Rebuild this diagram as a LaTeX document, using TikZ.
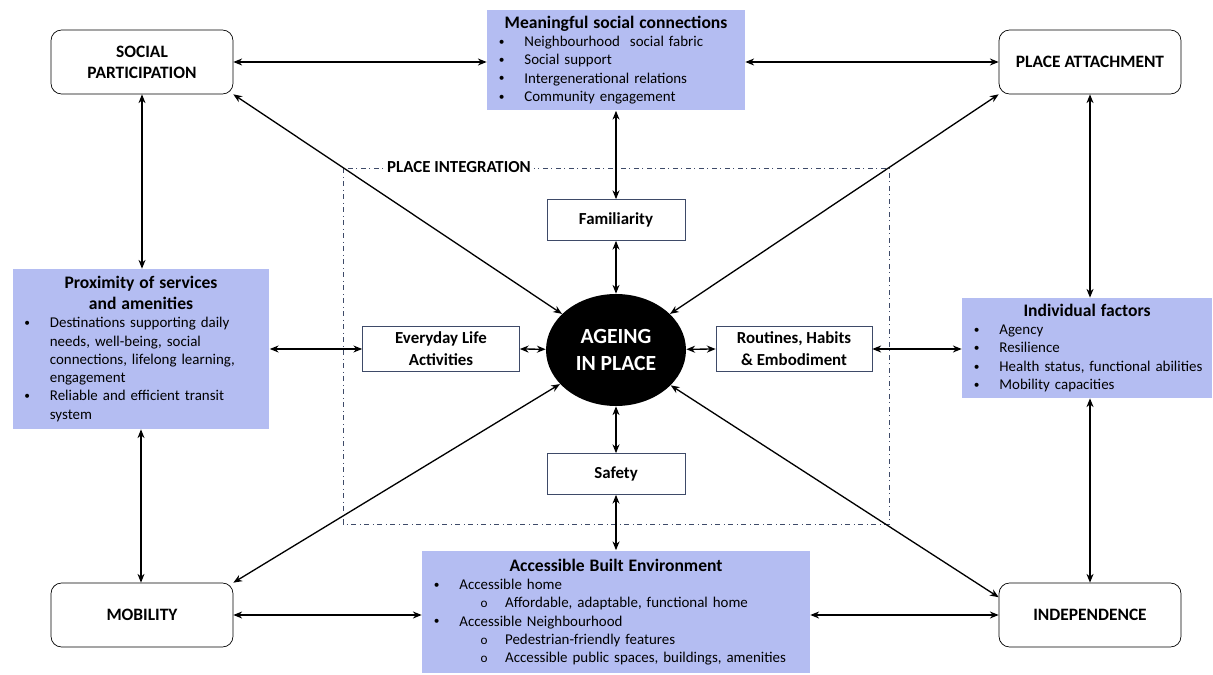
\documentclass[tikz,border=0pt]{standalone}
\usepackage{fontspec}
\setmainfont{Carlito}
\usetikzlibrary{shapes.geometric,arrows.meta,positioning}
\definecolor{boxblue}{RGB}{180,189,242}
\definecolor{edgegray}{RGB}{62,74,104}
\newlength{\bind}\setlength{\bind}{19pt}
\newcommand{\boxtitle}[1]{{\centering\bfseries\fontsize{10}{11.8}\selectfont #1\par}}
\newcommand{\bdot}{\raisebox{0.7pt}{\fontsize{6.5}{6.5}\selectfont\textbullet}}
\newcommand{\bitem}[1]{{\raggedright\hangindent=\bind\hangafter=1\noindent\makebox[\bind][l]{\hspace{4.5pt}\bdot}#1\par}}
\newcommand{\sitem}[1]{{\raggedright\noindent\hspace*{31pt}\makebox[14pt][l]{\fontsize{7.5}{7.5}\selectfont o}#1\par}}

\begin{document}
\begin{tikzpicture}[x=0.02cm, y=-0.02cm,
    corebox/.style={draw, rounded corners=6pt, minimum width=3.64cm, minimum height=1.28cm, align=center, font=\bfseries\fontsize{9.9}{12}\selectfont},
    infobox/.style={fill=boxblue, inner sep=0.08cm, font=\fontsize{8.5}{10.4}\selectfont},
    midbox/.style={draw=edgegray, fill=white, minimum height=0.82cm, align=center, font=\bfseries\fontsize{9.6}{12.4}\selectfont},
    link/.style={<->, >={Stealth[length=5pt,width=4pt]}, line width=0.75pt}]
    \useasboundingbox (0,0) rectangle (1213,675);

    \draw [edgegray, dash dot, line width=0.4pt] (343,168) rectangle (889,524);
    \node [fill=white, inner sep=2pt, font=\bfseries\fontsize{9.6}{11}\selectfont] (integ) at (459,167) {PLACE INTEGRATION};

    \node [corebox] (sp) at (142,62) {SOCIAL\\PARTICIPATION};
    \node [corebox] (pa) at (1090,62) {PLACE ATTACHMENT};
    \node [corebox] (mob) at (142,615) {MOBILITY};
    \node [corebox] (indep) at (1090,615) {INDEPENDENCE};

    \node [infobox, text width=5.0cm, minimum height=2.02cm] (conn) at (616,60) {\boxtitle{Meaningful social connections}
        \bitem{Neighbourhood\ \ social fabric}
        \bitem{Social support}
        \bitem{Intergenerational relations}
        \bitem{Community engagement}};
    \node [infobox, text width=4.98cm, minimum height=3.2cm] (prox) at (141,349) {\boxtitle{Proximity of services\\and amenities}
        \bitem{Destinations supporting daily\newline needs, well-being, social\newline connections, lifelong learning,\newline engagement}
        \bitem{Reliable and efficient transit\newline system}};
    \node [infobox, text width=4.84cm, minimum height=2.0cm] (indiv) at (1087,348) {\boxtitle{Individual factors}
        \bitem{Agency}
        \bitem{Resilience}
        \bitem{Health status, functional abilities}
        \bitem{Mobility capacities}};
    \node [infobox, text width=7.6cm, minimum height=2.46cm] (abe) at (616,612) {\boxtitle{Accessible Built Environment}
        \bitem{Accessible home}
        \sitem{Affordable, adaptable, functional home}
        \bitem{Accessible Neighbourhood}
        \sitem{Pedestrian-friendly features}
        \sitem{Accessible public spaces, buildings, amenities}};

    \node [ellipse, fill=black, text=white, minimum width=2.8cm, minimum height=2.24cm, align=center, font=\bfseries\fontsize{12.3}{15.9}\selectfont] (ageing) at (616,350) {AGEING\\IN PLACE};
    \node [midbox, minimum width=2.76cm] (fam) at (616,220) {Familiarity};
    \node [midbox, minimum width=2.76cm] (safe) at (616,474) {Safety};
    \node [midbox, minimum width=3.14cm, minimum height=0.88cm] (daily) at (441,349) {Everyday Life\\Activities};
    \node [midbox, minimum width=3.12cm, minimum height=0.86cm] (habit) at (794,349) {Routines, Habits\\\& Embodiment};

    \draw [link] (sp.east) -- (sp.east -| conn.west);
    \draw [link] (conn.east |- pa.west) -- (pa.west);
    \draw [link] (sp.south) -- (sp.south |- prox.north);
    \draw [link] (prox.south) -- (prox.south |- mob.north);
    \draw [link] (pa.south) -- (pa.south |- indiv.north);
    \draw [link] (indiv.south -| indep.north) -- (indep.north);
    \draw [link] (mob.east) -- (mob.east -| abe.west);
    \draw [link] (abe.east |- indep.west) -- (indep.west);
    \draw [link] (prox.east |- daily.west) -- (daily.west);
    \draw [link] (daily.east) -- (ageing);
    \draw [link] (ageing) -- (habit.west);
    \draw [link] (habit.east) -- (habit.east -| indiv.west);
    \draw [link] (conn.south) -- (fam.north);
    \draw [link] (fam.south) -- (ageing);
    \draw [link] (ageing) -- (safe.north);
    \draw [link] (safe.south) -- (abe.north);
    \draw [link] (sp.south east) -- (ageing);
    \draw [link] (pa.south west) -- (ageing);
    \draw [link] (mob.north east) -- (ageing);
    \draw [link] (indep.169) -- (ageing);
\end{tikzpicture}
\end{document}
